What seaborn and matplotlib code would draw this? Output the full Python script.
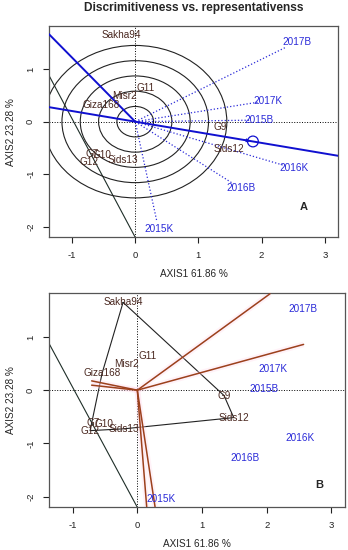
import numpy as np
import pandas as pd
import seaborn as sns
import matplotlib.pyplot as plt
from matplotlib.patches import Ellipse

sns.set_style("ticks")
plt.rcParams['font.family'] = ['Liberation Sans', 'DejaVu Sans']

# genotype scores (label positions)
genotypes = ["Sakha94", "G11", "Misr2", "Giza168", "G9", "Sids12",
             "G7", "G10", "G12", "Sids13"]
geno_x = [-0.22, 0.16, -0.17, -0.545, 1.34, 1.49, -0.69, -0.52, -0.73, -0.20]
geno_y = [1.65, 0.645, 0.485, 0.315, -0.10, -0.515, -0.62, -0.63, -0.76, -0.725]

# environment scores
envs = ["2017B", "2017K", "2015B", "2016K", "2016B", "2015K"]
env_x = [2.56, 2.10, 1.96, 2.52, 1.67, 0.37]
env_y = [1.52, 0.40, 0.03, -0.89, -1.27, -2.05]

# concentric circles (distance to origin)
circle_r = [0.29, 0.58, 0.87, 1.16, 1.45]

# extra line seen in both panels
side_line_x = [-1.37, 0.0]
side_line_y = [0.89, -2.20]

# line from origin to upper left in panel A
ortho_x = [0.0, -1.37]
ortho_y = [0.0, 1.67]

# polygon (convex hull) in panel B
hull = ["Sakha94", "G9", "Sids12", "Sids13", "G12", "Giza168", "Sakha94"]

# sector lines in panel B (end points)
sector_x = [2.05, 2.57, -0.706, -0.706, 0.145, 0.274]
sector_y = [1.81, 0.86, 0.175, 0.094, -2.19, -2.19]

xlim = (-1.365, 3.21)
ylim = (-2.2, 1.82)
xt = [-1, 0, 1, 2, 3]
yt = [-2, -1, 0, 1]

geno = pd.DataFrame({"name": genotypes, "x": geno_x, "y": geno_y}).set_index("name")
env = pd.DataFrame({"name": envs, "x": env_x, "y": env_y})

blue = "#2a2ad8"
gcol = "#4a2820"
brown = "#9c401c"

fig = plt.figure(figsize=(3.48, 5.5), dpi=100)
ax1 = fig.add_axes([49 / 348, 1 - 237.3 / 550, 289 / 348, 211.3 / 550])
ax2 = fig.add_axes([49 / 348, 1 - 507.3 / 550, 296 / 348, 214 / 550])


def base(ax):
    ax.set_xlim(*xlim)
    ax.set_ylim(*ylim)
    ax.set_xticks(xt)
    ax.set_yticks(yt)
    ax.set_xticklabels([str(v) for v in xt], fontsize=6.8)
    ax.set_yticklabels([str(v) for v in yt], fontsize=6.8, rotation=90, va="center")
    ax.tick_params(length=4, width=0.8, pad=6, colors="#222222")
    for s in ax.spines.values():
        s.set_linewidth(0.9)
        s.set_color("#555555")
    ax.axhline(0, color="black", ls=":", lw=0.7, zorder=1)
    ax.axvline(0, color="black", ls=":", lw=0.7, zorder=1)
    ax.set_xlabel("AXIS1 61.86 %", fontsize=7.2, labelpad=6.5)
    ax.set_ylabel("AXIS2 23.28 %", fontsize=7.2, labelpad=7)
    ax.axline((side_line_x[0], side_line_y[0]), (side_line_x[1], side_line_y[1]),
              color="#1e2e28", lw=0.8, zorder=2)
    for _, r in geno.iterrows():
        ax.text(r.x, r.y, r.name, color=gcol, fontsize=7.2, ha="center", va="center", zorder=5)
    for _, r in env.iterrows():
        ax.text(r.x, r.y, r["name"], color=blue, fontsize=7.2, ha="center", va="center", zorder=5)


# ---- panel A
base(ax1)
for r in circle_r:
    ax1.add_patch(Ellipse((0, 0), 2 * r, 2 * r, fill=False, color="#222222", lw=0.8, zorder=2))
for _, r in env.iterrows():
    ax1.plot([0, r.x * 0.93], [0, r.y * 0.93], color=blue, ls=":", lw=0.9, zorder=3)
mx, my = np.mean(env_x), np.mean(env_y)
ax1.axline((0, 0), (mx, my), color="#1010d0", lw=1.4, zorder=4)
ax1.plot(ortho_x, ortho_y, color="#1010d0", lw=1.4, zorder=4)
sns.scatterplot(x=[mx], y=[my], ax=ax1, s=60, facecolor="none", edgecolor="#1010d0",
                linewidth=0.9, zorder=5)
ax1.annotate("", xy=(mx, my), xytext=(mx * 0.9, my * 0.9),
             arrowprops=dict(arrowstyle="-|>", color="#1010d0", lw=0.8, mutation_scale=5))
ax1.text(0.882, 0.142, "A", transform=ax1.transAxes, fontsize=8, fontweight="bold",
         ha="center", va="center")

# ---- panel B
base(ax2)
ax2.plot(geno.loc[hull, "x"], geno.loc[hull, "y"], color="#222222", lw=0.8, zorder=2)
for sx, sy in zip(sector_x, sector_y):
    ax2.plot([0, sx], [0, sy], color="#ffd6e8", lw=4, alpha=0.3, zorder=2,
             solid_capstyle="butt")
    ax2.plot([0, sx], [0, sy], color=brown, lw=1.1, zorder=3)
ax2.text(0.912, 0.104, "B", transform=ax2.transAxes, fontsize=8, fontweight="bold",
         ha="center", va="center")

fig.text(193.5 / 348, 1 - 8 / 550, "Discrimitiveness vs. representativenss",
         fontsize=8.6, fontweight="bold", ha="center", va="center")

fig.savefig("out.png", dpi=100)
